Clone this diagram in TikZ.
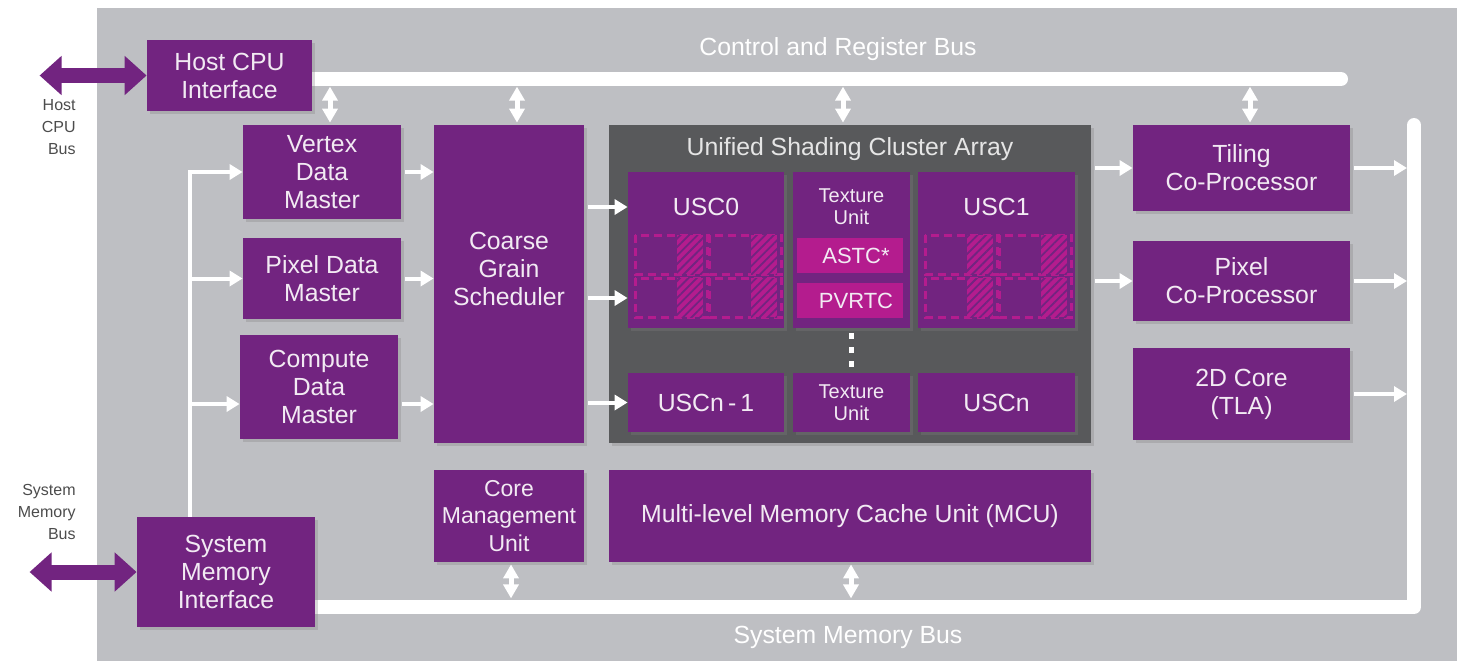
\documentclass[tikz,border=0pt]{standalone}
\usepackage{fontspec}
\setmainfont{Liberation Sans}
\usetikzlibrary{arrows.meta,shadows,patterns.meta}

\definecolor{purp}{RGB}{114,36,128}
\definecolor{mage}{RGB}{180,28,142}
\definecolor{chip}{RGB}{190,191,195}
\definecolor{uscgray}{RGB}{88,89,91}
\definecolor{ltext}{RGB}{242,234,243}

\pgfdeclarelayer{bg}
\pgfsetlayers{bg,main}

\tikzset{
  blk/.style={fill=purp, text=ltext, align=center, inner sep=0pt, font=\fontsize{12.4}{14}\selectfont,
    drop shadow={shadow xshift=1.5pt, shadow yshift=-1.5pt, opacity=0.3}},
  txt/.style={text=ltext, align=center, inner sep=0pt, font=\fontsize{12.4}{14}\selectfont},
  small/.style={font=\fontsize{10}{11}\selectfont},
  codec/.style={fill=mage, text=ltext, inner sep=0pt, font=\fontsize{11}{12}\selectfont,
    minimum width=53pt, minimum height=17.5pt},
  cell/.style={mage, line width=1.5pt, dash pattern=on 4pt off 2.5pt},
  hatch/.style={pattern={Lines[angle=45,distance=3pt,line width=0.9pt]}, pattern color=purp},
  bus/.style={white, line width=7pt, line cap=round, line join=round},
  feed/.style={white, line width=2pt},
  arr/.style={feed, -{Triangle[length=6.5pt,width=7.5pt]}},
  dbl/.style={white, line width=2.5pt, {Triangle[length=7pt,width=7.5pt]}-{Triangle[length=7pt,width=7.5pt]}},
  ext/.style={purp, line width=7.5pt, {Triangle[length=11pt,width=19pt]}-{Triangle[length=11pt,width=19pt]}},
  buslbl/.style={text=white, inner sep=0pt, font=\fontsize{12.4}{14}\selectfont},
  sidelbl/.style={text=black!70, align=right, anchor=east, inner sep=0pt, font=\fontsize{8}{11}\selectfont}
}

\begin{document}
\begin{tikzpicture}[x=0.5pt,y=-0.5pt]
\useasboundingbox (0,0) rectangle (1457,661);

% front end
\node[blk, minimum width=82.5pt, minimum height=35.5pt] (hci) at (229.5,75.5) {Host CPU\\Interface};
\node[blk, minimum width=79pt, minimum height=47pt] (vdm) at (322,172) {Vertex\\Data\\Master};
\node[blk, minimum width=79pt, minimum height=40.5pt] (pdm) at (322,278.5) {Pixel Data\\Master};
\node[blk, minimum width=79pt, minimum height=52pt] (cdm) at (319,387) {Compute\\Data\\Master};
\node[blk, minimum width=89pt, minimum height=55pt] (smi) at (226,572) {System\\Memory\\Interface};
\node[blk, minimum width=75pt, minimum height=159pt] (cgs) at (509,284) {};
\node[txt] (cgst) at (509,269) {Coarse\\Grain\\Scheduler};
\node[blk, minimum width=75pt, minimum height=46pt, font=\fontsize{11.5}{13.75}\selectfont] (cmu) at (509,516) {Core\\Management\\Unit};

% shading cluster array
\node[blk, fill=uscgray, minimum width=241pt, minimum height=159pt] (usca) at (850,284) {};
\node[buslbl, text=white!90!black] (uscat) at (850,149) {Unified Shading Cluster Array};
\node[blk, minimum width=78pt, minimum height=78pt] (usc0) at (706,250) {};
\node[blk, minimum width=58.5pt, minimum height=78pt] (tu0) at (851.5,250) {};
\node[blk, minimum width=78.5pt, minimum height=78pt] (usc1) at (996.5,250) {};
\node[txt] (usc0t) at (706,207) {USC0};
\node[txt, small] (tu0t) at (851.5,207) {Texture\\Unit};
\node[txt] (usc1t) at (996.5,207) {USC1};
\node[codec] (astc) at (850,255.5) {\hspace{6pt}ASTC*};
\node[codec] (pvrtc) at (850,300.5) {\hspace{6pt}PVRTC};
\foreach \ux in {628,918}
  \foreach \c in {0,1}
    \foreach \r in {0,1} {
      \pgfmathsetmacro\cx{\ux+7+74*\c}
      \pgfmathsetmacro\cy{235+43*\r}
      \draw[cell] (\cx,\cy) rectangle ++(72,39);
      \fill[mage] (\cx+42,\cy) rectangle ++(26,39);
      \fill[hatch] (\cx+42,\cy) rectangle ++(26,39);
    }
\foreach \y in {336,350,364}
  \fill[white] (848.5,\y-3) rectangle ++(5,6);
\node[blk, minimum width=78pt, minimum height=29.5pt] (uscn1) at (706,402.5) {USCn\,-\,1};
\node[blk, small, minimum width=58.5pt, minimum height=29.5pt] (tun) at (851.5,402.5) {Texture\\Unit};
\node[blk, minimum width=78.5pt, minimum height=29.5pt] (uscn) at (996.5,402.5) {USCn};
\node[blk, minimum width=241pt, minimum height=46pt] (mcu) at (850,516) {Multi-level Memory Cache Unit (MCU)};

% back end
\node[blk, minimum width=108.5pt, minimum height=43pt] (tcp) at (1241.5,168) {Tiling\\Co-Processor};
\node[blk, minimum width=108.5pt, minimum height=40pt] (pcp) at (1241.5,281) {Pixel\\Co-Processor};
\node[blk, minimum width=108.5pt, minimum height=46pt] (tdc) at (1241.5,394) {2D Core\\(TLA)};

% buses
\coordinate (crb) at (1341,79);
\coordinate (sbc) at (1414,607);
\coordinate (sbt) at (1414,125);
\begin{pgfonlayer}{bg}
\fill[chip] (97,8) rectangle (1457,661);
\draw[bus] (hci.east |- crb) -- (crb);
\draw[bus] (smi.east |- sbc) -- (sbc) -- (sbt);
\end{pgfonlayer}
\node[buslbl] (crblbl) at (838,49) {Control and Register Bus};
\node[buslbl] (sbclbl) at (848,637) {System Memory Bus};
\node[sidelbl] (hcb) at (76,127) {Host\\CPU\\Bus};
\node[sidelbl] (smb) at (76,512) {System\\Memory\\Bus};

% data flow
\coordinate (fd) at (190,172);
\path ([yshift=-8.5pt]cdm.west) coordinate (cdmin) ([yshift=-8.5pt]cdm.east) coordinate (cdmout);
\draw[arr] (fd |- smi.north) -- (fd) -- (vdm.west);
\draw[arr] (fd |- pdm.west) -- (pdm.west);
\draw[arr] (fd |- cdmin) -- (cdmin);
\draw[arr, shorten <=2pt] (vdm.east) -- (vdm.east -| cgs.west);
\draw[arr, shorten <=2pt] (pdm.east) -- (pdm.east -| cgs.west);
\draw[arr, shorten <=2pt] (cdmout) -- (cdmout -| cgs.west);
\path ([yshift=21.5pt]usc0.west) coordinate (u0a) ([yshift=-24pt]usc0.west) coordinate (u0b);
\draw[arr, shorten <=2pt] (u0a -| cgs.east) -- (u0a);
\draw[arr, shorten <=2pt] (u0b -| cgs.east) -- (u0b);
\draw[arr, shorten <=2pt] (uscn1.west -| cgs.east) -- (uscn1.west);
\draw[arr, shorten <=2pt] (tcp.west -| usca.east) -- (tcp.west);
\draw[arr, shorten <=2pt] (pcp.west -| usca.east) -- (pcp.west);
\foreach \n in {tcp,pcp,tdc}
  \draw[arr, shorten <=2pt, shorten >=3.5pt] (\n.east) -- (\n.east -| sbt);

% bus taps
\foreach \n/\dx in {vdm/4pt,cgs/4pt,usca/-3.5pt,tcp/4.25pt}
  \draw[dbl, shorten <=1pt] ([xshift=\dx]\n.north) -- ++(0,-38);
\foreach \n/\dx in {cmu/1pt,mcu/0.5pt}
  \draw[dbl, shorten <=1pt] ([xshift=\dx]\n.south) -- ++(0,36);
\draw[ext] (hci.west) -- ++(-107,0);
\draw[ext] (smi.west) -- ++(-107,0);
\end{tikzpicture}
\end{document}
